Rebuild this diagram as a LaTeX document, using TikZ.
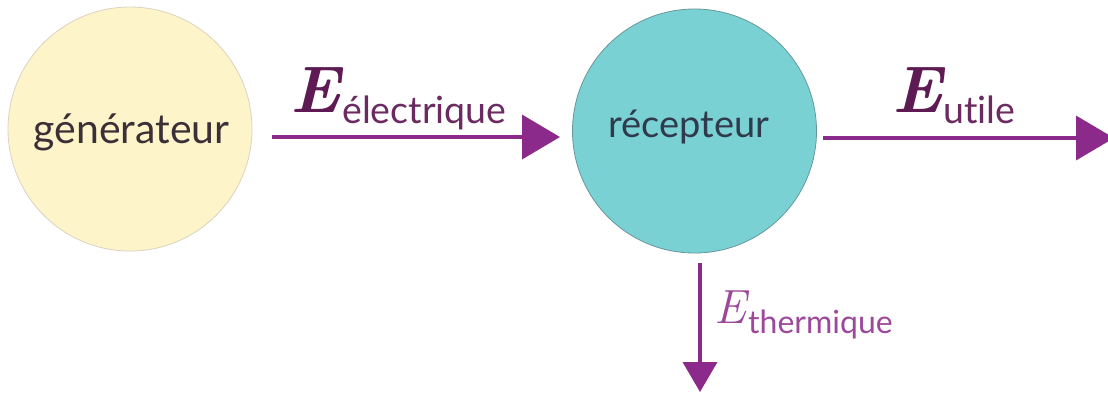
\documentclass[tikz,border=0pt]{standalone}
\usepackage{fontspec}
\setmainfont{Lato}[Ligatures=CommonOff]
\newfontfamily\lmserif{Latin Modern Roman}
\definecolor{pale}{HTML}{FDF4C9}
\definecolor{paleedge}{HTML}{D9D3C2}
\definecolor{tealfill}{HTML}{7AD1D4}
\definecolor{tealedge}{HTML}{67979A}
\definecolor{arrowpurple}{HTML}{8C2A8B}
\definecolor{darkpurple}{HTML}{5E1A52}
\definecolor{midpurple}{HTML}{6C2A62}
\definecolor{lightpurple}{HTML}{9C489B}
\definecolor{textgray}{HTML}{3B3037}
\definecolor{textnavy}{HTML}{2F3A4A}
\usetikzlibrary{arrows.meta}
\tikzset{
  bubble/.style={circle, minimum size=244pt, inner sep=0pt, line width=0.8pt},
  flow/.style={draw=arrowpurple, line width=3.8pt, -{Triangle[length=38pt,width=44pt]}},
  flowsmall/.style={draw=arrowpurple, line width=3.8pt, -{Triangle[length=30pt,width=34pt]}},
  lbl/.style={inner sep=0pt, anchor=base west},
  ctext/.style={inner sep=0pt, anchor=base},
  bigE/.style={lbl, text=darkpurple, font=\lmserif\bfseries\itshape\fontsize{66}{66}\selectfont},
  sub/.style={lbl, text=midpurple, font=\fontsize{37.5}{37.5}\selectfont},
}
\begin{document}
\begin{tikzpicture}[x=1pt,y=-1pt]
\useasboundingbox (0,0) rectangle (1108,392);
\node[bubble, fill=pale, draw=paleedge] (gen) at (130,129) {};
\node[bubble, fill=tealfill, draw=tealedge] (rec) at (694.5,131) {};
\node[ctext, text=textgray, font=\fontsize{41}{41}\selectfont] (gent) at (131.5,143) {générateur};
\node[ctext, text=textnavy, font=\fontsize{38}{38}\selectfont] (rect) at (689,137) {récepteur};
\coordinate (a1s) at (272,137);
\coordinate (a1e) at (560,137);
\coordinate (a2s) at (823,138);
\coordinate (a2e) at (1114,138);
\coordinate (a3s) at (700,263);
\coordinate (a3e) at (700,392);
\draw[flow] (a1s) -- (a1e);
\draw[flow] (a2s) -- (a2e);
\draw[flowsmall] (a3s) -- (a3e);
\node[bigE] (e1) at (290,112) {E};
\node[sub] (s1) at (342,123) {électrique};
\node[bigE] (e2) at (892,112) {E};
\node[sub] (s2) at (943,123) {utile};
\node[lbl, text=lightpurple, font=\lmserif\itshape\fontsize{48}{48}\selectfont] (e3) at (714,323) {E};
\node[lbl, text=lightpurple, font=\fontsize{32}{32}\selectfont] (s3) at (748,333) {thermique};
\end{tikzpicture}
\end{document}
